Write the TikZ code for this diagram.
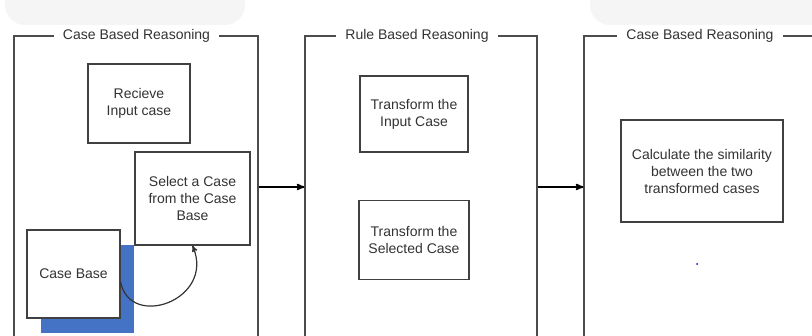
\documentclass[tikz,border=0pt]{standalone}
\usepackage{fontspec}
\setmainfont{Liberation Sans}
\usetikzlibrary{arrows}
\usetikzlibrary{positioning,shadows}
\definecolor{shadowblue}{HTML}{4472C4}

\begin{document}
\begin{tikzpicture}[x=1pt,y=-1pt,>=stealth',
                        frame node/.style={rectangle,draw=black!70,line width=1.2pt,minimum height=302pt},
                        box node/.style={rectangle,draw=black!75,line width=1.2pt,fill=white,align=center,
                          font=\fontsize{14}{17}\selectfont,text=black!80},
                        title node/.style={fill=white,inner xsep=9pt,font=\fontsize{14}{17}\selectfont,text=black!80}]

      \useasboundingbox (0,0) rectangle (812,336);
      \fill[black!4,rounded corners=20pt] (5,-20) rectangle (245,25);
      \fill[black!4,rounded corners=20pt] (590,-20) rectangle (840,25);

      \node[frame node,minimum width=244pt] (1) at (136,187) {};
      \node[frame node,minimum width=232pt] (5) at (421,187) {};
      \node[frame node,minimum width=256pt] (8) at (712,187) {};
      \node[title node] at (136.5,36) {Case Based Reasoning};
      \node[title node] at (417,36) {Rule Based Reasoning};
      \node[title node] at (700,36) {Case Based Reasoning};

      \node[box node,minimum width=102pt,minimum height=79pt] (2) at (139,103.5) {Recieve\\Input case};
      \node[box node,minimum width=115pt,minimum height=93pt] (3) at (192.5,198.5) {Select a Case\\from the Case\\Base};
      \node[box node,minimum width=93pt,minimum height=88pt,
            general shadow={fill=shadowblue,shadow xshift=14pt,shadow yshift=-15pt}] (4) at (73.5,274) {Case Base};
      \node[box node,minimum width=108pt,minimum height=76pt] (6) at (414,114) {Transform the\\Input Case};
      \node[box node,minimum width=110pt,minimum height=79pt] (7) [below=47pt of 6] {Transform the\\Selected Case};
      \node[box node,minimum width=162pt,minimum height=102pt] (9) at (702,171) {Calculate the similarity\\between the two\\transformed cases};
      \fill[blue] (697,264) circle (1pt);

      \draw[->,line width=1.2pt,black!80] ([yshift=-8pt]4.east) .. controls (130,330) and (215,300) .. (3.south);
      \draw[->,line width=1.6pt] (1.east) -- (5.west);
      \draw[->,line width=1.6pt] (5.east) -- (8.west);
    \end{tikzpicture}
\end{document}
